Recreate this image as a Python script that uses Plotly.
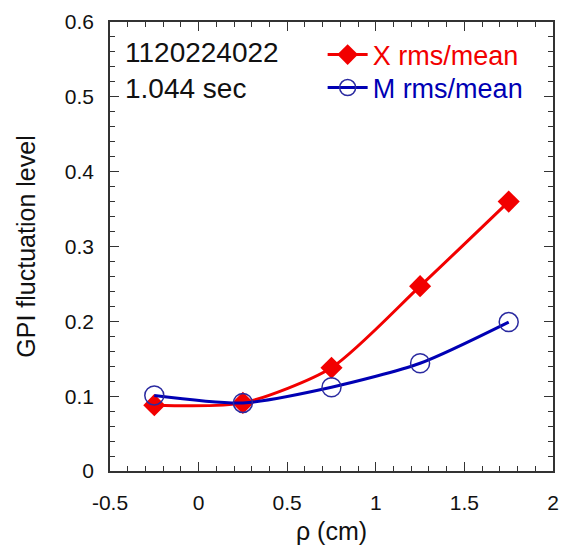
import plotly.graph_objects as go

rho = [-0.25, 0.25, 0.75, 1.25, 1.75]
x_rms = [0.088, 0.091, 0.138, 0.247, 0.360]
m_rms = [0.101, 0.091, 0.112, 0.144, 0.199]
x_name = "X rms/mean"
m_name = "M rms/mean"
shot_text = "1120224022<br>1.044 sec"
x_ticks = [-0.5, 0, 0.5, 1, 1.5, 2]
x_tick_labels = ["-0.5", "0", "0.5", "1", "1.5", "2"]
y_ticks = [0, 0.1, 0.2, 0.3, 0.4, 0.5, 0.6]
y_tick_labels = ["0", "0.1", "0.2", "0.3", "0.4", "0.5", "0.6"]

FONT = "Liberation Sans, Arial, Helvetica, sans-serif"
RED = "#f20000"
BLUE = "#0000b4"

fig = go.Figure()
fig.add_trace(go.Scatter(
    x=rho, y=x_rms, mode="lines+markers",
    name=f'<span style="color:{RED}">{x_name}</span>',
    line=dict(color=RED, width=3, shape="spline", smoothing=0.7),
    marker=dict(symbol="diamond", size=17, color=RED),
    legend="legend",
))
fig.add_trace(go.Scatter(
    x=rho, y=m_rms, mode="lines+markers",
    name=f'<span style="color:{BLUE}">{m_name}</span>',
    line=dict(color=BLUE, width=3, shape="spline", smoothing=0.7),
    marker=dict(symbol="circle-open", size=19, color="#2a2aa0", line=dict(width=1.5)),
    legend="legend2",
))

axis_common = dict(
    showline=True, linecolor="#333333", linewidth=1.5, mirror="allticks",
    ticks="inside", ticklen=9, tickwidth=1.2, tickcolor="#333333",
    showgrid=False, zeroline=False,
    tickfont=dict(family=FONT, size=21, color="#111111"),
)

fig.update_xaxes(
    range=[-0.5, 2], tickmode="array", tickvals=x_ticks, ticktext=x_tick_labels,
    minor=dict(dtick=0.1, tick0=-0.5, ticks="inside", ticklen=5, tickwidth=1.2, tickcolor="#333333"),
    title=dict(text="ρ (cm)", font=dict(family=FONT, size=25, color="#111111"), standoff=10),
    ticklabelstandoff=12,
    **axis_common,
)
fig.update_yaxes(
    range=[0, 0.6], tickmode="array", tickvals=y_ticks, ticktext=y_tick_labels,
    minor=dict(dtick=0.02, tick0=0, ticks="inside", ticklen=5, tickwidth=1.2, tickcolor="#333333"),
    title=dict(text="GPI fluctuation level", font=dict(family=FONT, size=25, color="#111111"), standoff=22),
    ticklabelstandoff=10,
    **axis_common,
)

fig.add_annotation(
    text=shot_text, xref="paper", yref="paper", x=0.03, y=0.97,
    xanchor="left", yanchor="top", align="left", showarrow=False,
    font=dict(family=FONT, size=28, color="#111111"),
)

leg_common = dict(
    x=0.48, xanchor="left", yanchor="middle",
    bgcolor="rgba(0,0,0,0)", font=dict(family=FONT, size=27),
    tracegroupgap=0, itemwidth=40,
)

fig.update_layout(
    width=566, height=551,
    margin=dict(l=110, r=7, t=22, b=80),
    paper_bgcolor="white", plot_bgcolor="white",
    showlegend=True,
    legend=dict(y=0.9265, **leg_common),
    legend2=dict(y=0.853, **leg_common),
)

fig.write_html("out.html")
